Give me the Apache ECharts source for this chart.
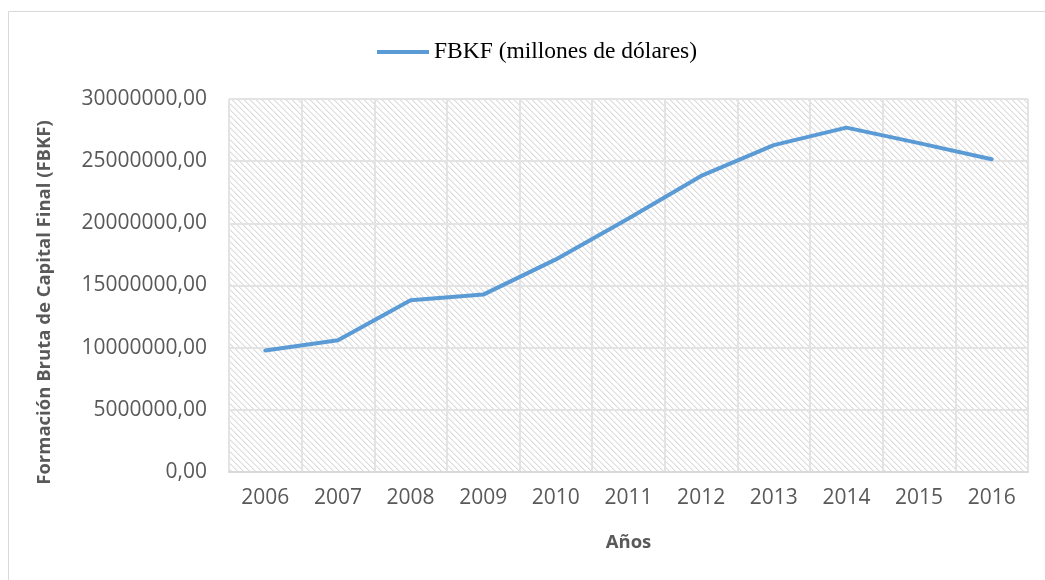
<!DOCTYPE html>
<html>
<head>
<meta charset="utf-8">
<script src="https://cdn.jsdelivr.net/npm/echarts@6/dist/echarts.min.js"></script>
<style>
  html, body { margin: 0; padding: 0; background: #fff; }
  #chart { width: 1045px; height: 580px; }
</style>
</head>
<body>
<div id="chart"></div>
<script>
const years = ['2006', '2007', '2008', '2009', '2010', '2011', '2012', '2013', '2014', '2015', '2016']
const fbkf = [9780000, 10590000, 13810000, 14270000, 17100000, 20380000, 23810000, 26290000, 27700000, 26450000, 25160000]
const yTicks = { min: 0, max: 30000000, interval: 5000000 }

// hatch tile for the plot background (diagonal lines like the Excel pattern)
const makeHatch = () => {
  const size = 6
  const c = document.createElement('canvas')
  c.width = size
  c.height = size
  const ctx = c.getContext('2d')
  ctx.fillStyle = '#ffffff'
  ctx.fillRect(0, 0, size, size)
  for (let i = 0; i < size; i++) {
    ctx.fillStyle = '#dcdcdc'
    ctx.fillRect(i, i, 1, 1)
    ctx.fillStyle = '#eeeeee'
    ctx.fillRect((i + 1) % size, i, 1, 1)
  }
  return c
}

const myChart = echarts.init(document.getElementById('chart'))
const option = {
  animation: false,
  backgroundColor: '#ffffff',
  graphic: [
    {
      type: 'rect',
      shape: { x: 8.5, y: 11.5, width: 1100, height: 700 },
      style: { fill: 'none', stroke: '#d9d9d9', lineWidth: 1 },
      silent: true
    }
  ],
  legend: {
    top: 35,
    left: 372,
    itemWidth: 52,
    itemHeight: 4,
    itemGap: 8,
    icon: 'rect',
    textStyle: {
      fontFamily: 'Liberation Serif',
      fontSize: 23.5,
      color: '#000'
    },
    data: ['FBKF (millones de dólares)']
  },
  grid: {
    left: 229,
    right: 17,
    top: 99,
    bottom: 108,
    show: true,
    borderWidth: 0,
    backgroundColor: { image: makeHatch(), repeat: 'repeat' }
  },
  xAxis: {
    type: 'category',
    data: years,
    boundaryGap: true,
    name: 'Años',
    nameLocation: 'middle',
    nameGap: 61,
    nameTextStyle: {
      fontFamily: 'Open Sans',
      fontSize: 18.5,
      fontWeight: 'bold',
      color: '#595959'
    },
    axisLine: { lineStyle: { color: '#d9d9d9', width: 2 } },
    axisTick: { show: false },
    axisLabel: {
      margin: 16,
      fontFamily: 'Open Sans',
      fontSize: 21,
      color: '#595959'
    },
    splitLine: { show: true, lineStyle: { color: '#e3e3e3', width: 2 } }
  },
  yAxis: {
    type: 'value',
    min: yTicks.min,
    max: yTicks.max,
    interval: yTicks.interval,
    name: 'Formación Bruta de Capital Final (FBKF)',
    nameLocation: 'middle',
    nameGap: 175,
    nameTextStyle: {
      fontFamily: 'Open Sans',
      fontSize: 18.5,
      fontWeight: 'bold',
      color: '#595959',
      padding: [0, 34, 0, 0]
    },
    axisLine: { show: false },
    axisTick: { show: false },
    axisLabel: {
      margin: 22,
      fontFamily: 'Open Sans',
      fontSize: 21,
      color: '#595959',
      formatter: (v) => v.toFixed(2).replace('.', ',')
    },
    splitLine: { show: true, lineStyle: { color: '#e3e3e3', width: 2 } }
  },
  series: [
    {
      name: 'FBKF (millones de dólares)',
      type: 'line',
      data: fbkf,
      showSymbol: false,
      symbol: 'none',
      lineStyle: { color: '#5b9bd5', width: 4, cap: 'round', join: 'round' },
      itemStyle: { color: '#5b9bd5' }
    }
  ]
}
myChart.setOption(option)
window.addEventListener('resize', () => {
  myChart.resize()
})
</script>
</body>
</html>
